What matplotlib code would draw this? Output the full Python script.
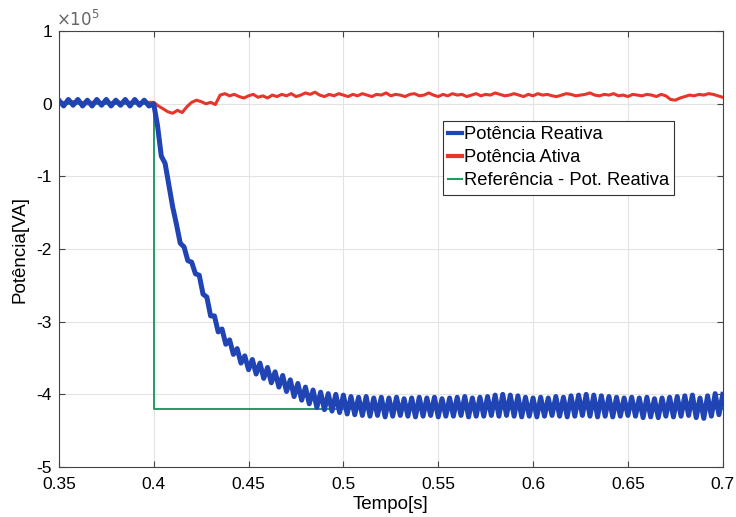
import numpy as np
import matplotlib
matplotlib.use("Agg")
import matplotlib.pyplot as plt
from matplotlib.ticker import FuncFormatter

plt.rcParams['font.family'] = ['Liberation Sans', 'DejaVu Sans']
plt.rcParams['axes.unicode_minus'] = False

SCALE = 1e5  # values below are in units of 1e5 VA

# Reactive power, before the step (0.35 s .. 0.3975 s, every 2.5 ms)
q_pre_t0, q_pre_dt = 0.35, 0.0025
q_pre = [0.05, -0.03, 0.06, -0.02, 0.06, -0.03, 0.05, -0.03, 0.06, -0.02,
         0.06, -0.03, 0.05, -0.02, 0.06, -0.03, 0.06, -0.02, 0.05, -0.03]

# Reactive power, after the step (0.400 s .. 0.700 s, every 2 ms)
q_post_t0, q_post_dt = 0.40, 0.002
q_post = [0.00, -0.30, -0.72, -0.82, -1.12, -1.42, -1.66, -1.92, -1.97, -2.16,
          -2.18, -2.34, -2.36, -2.62, -2.66, -2.92, -2.92, -3.14, -3.10, -3.31,
          -3.25, -3.45, -3.37, -3.57, -3.47, -3.66, -3.52, -3.72, -3.57, -3.78,
          -3.63, -3.84, -3.69, -3.90, -3.74, -3.96, -3.80, -4.03, -3.85, -4.08,
          -3.90, -4.13, -3.94, -4.18, -3.97, -4.21, -3.99, -4.23, -4.00, -4.25,
          -4.01,
          -4.27, -4.03, -4.28, -4.04, -4.29, -4.03, -4.30, -4.05, -4.29, -4.04,
          -4.31, -4.05, -4.30, -4.04, -4.29, -4.06, -4.30, -4.05, -4.31, -4.04,
          -4.30, -4.05, -4.29, -4.04, -4.31, -4.06, -4.30, -4.05, -4.30, -4.04,
          -4.29, -4.03, -4.31, -4.05, -4.30, -4.04, -4.30, -4.03, -4.29, -4.01,
          -4.30, -4.00, -4.29, -4.01, -4.30, -4.02, -4.31, -4.04, -4.30, -4.05,
          -4.31, -4.04, -4.30, -4.05, -4.29, -4.03, -4.30, -4.04, -4.31, -4.02,
          -4.30, -4.01, -4.29, -4.00, -4.30, -4.01, -4.31, -4.02, -4.30, -4.03,
          -4.31, -4.04, -4.30, -4.05, -4.29, -4.04, -4.30, -4.05, -4.32, -4.04,
          -4.31, -4.06, -4.32, -4.05, -4.30, -4.04, -4.31, -4.03, -4.30, -4.02,
          -4.29, -4.01, -4.32, -4.05, -4.33, -4.02, -4.30, -3.99, -4.28, -4.00]

# Active power (0.35 s .. 0.70 s, every 2.5 ms)
p_t0, p_dt = 0.35, 0.0025
p_ativa = [0.00, 0.02, 0.01, 0.03, 0.01, 0.02, 0.00, 0.02, 0.03, 0.01,
           0.02, 0.01, 0.03, 0.02, 0.01, 0.02, 0.03, 0.01, 0.02, 0.02,
           0.02, -0.03, -0.07, -0.11, -0.13, -0.09, -0.12, -0.04, 0.02, 0.05,
           0.03, 0.00, 0.02, -0.01, 0.12, 0.14, 0.11, 0.13, 0.10, 0.08,
           0.11, 0.13, 0.09, 0.11, 0.08, 0.12, 0.10, 0.13, 0.11, 0.14,
           0.10, 0.12, 0.15, 0.13, 0.16, 0.12, 0.10, 0.13, 0.11, 0.14,
           0.12,
           0.10, 0.13, 0.11, 0.14, 0.12, 0.10, 0.13, 0.12, 0.15, 0.11,
           0.13, 0.12, 0.10, 0.13, 0.14, 0.11, 0.12, 0.15, 0.12, 0.10,
           0.13, 0.11, 0.14, 0.12, 0.13, 0.10, 0.12, 0.14, 0.11, 0.13,
           0.12, 0.15, 0.13, 0.11, 0.12, 0.14, 0.12, 0.10, 0.13, 0.11,
           0.14, 0.12, 0.13, 0.11, 0.10, 0.12, 0.14, 0.13, 0.11, 0.12,
           0.13, 0.15, 0.12, 0.11, 0.13, 0.12, 0.14, 0.11, 0.12, 0.10,
           0.13, 0.12, 0.11, 0.13, 0.12, 0.10, 0.13, 0.11, 0.06, 0.05,
           0.08, 0.10, 0.12, 0.11, 0.13, 0.12, 0.14, 0.13, 0.11, 0.09]

# Reactive power reference (step at 0.4 s)
ref_t = [0.35, 0.40, 0.40, 0.70]
ref_q = [0.0, 0.0, -4.2, -4.2]

labels = ['Potência Reativa', 'Potência Ativa', 'Referência - Pot. Reativa']
x_ticks = [0.35, 0.4, 0.45, 0.5, 0.55, 0.6, 0.65, 0.7]
y_ticks = [-5, -4, -3, -2, -1, 0, 1]

t_q = np.concatenate([q_pre_t0 + q_pre_dt * np.arange(len(q_pre)),
                      q_post_t0 + q_post_dt * np.arange(len(q_post))])
q_vals = np.concatenate([q_pre, q_post]) * SCALE
t_p = p_t0 + p_dt * np.arange(len(p_ativa))
p_vals = np.array(p_ativa) * SCALE

fig = plt.figure(figsize=(7.36, 5.17), dpi=100)
ax = fig.add_axes([0.080, 0.0967, 0.902, 0.843])

ax.plot(t_p, p_vals, color='#e8352a', lw=2.2, zorder=3)
ax.plot(ref_t, np.array(ref_q) * SCALE, color='#249a66', lw=1.4, zorder=4)
ax.plot(t_q, q_vals, color='#2144b5', lw=3.6, zorder=5)

h_q = plt.Line2D([], [], color='#2144b5', lw=3.0)
h_p = plt.Line2D([], [], color='#e8352a', lw=3.0)
h_r = plt.Line2D([], [], color='#249a66', lw=1.5)
leg = ax.legend([h_q, h_p, h_r], labels, loc='upper left',
                bbox_to_anchor=(0.578, 0.795), fontsize=13.2,
                handlelength=0.75, handletextpad=0.1, borderpad=0.3,
                labelspacing=0.33, borderaxespad=0, fancybox=False,
                framealpha=1, edgecolor='#333333')
leg.get_frame().set_linewidth(0.8)

ax.set_xlim(0.35, 0.7)
ax.set_ylim(-5 * SCALE, 1 * SCALE)
ax.set_xticks(x_ticks)
ax.set_yticks(np.array(y_ticks) * SCALE)
ax.xaxis.set_major_formatter(FuncFormatter(lambda v, _: '%g' % v))
ax.yaxis.set_major_formatter(FuncFormatter(lambda v, _: '%g' % round(v / SCALE, 6)))
ax.text(-0.005, 1.005, r'$\times 10^{5}$', transform=ax.transAxes,
        ha='left', va='bottom', fontsize=12, color='#666666')

ax.grid(True, color='#e3e3e3', lw=0.8)
ax.set_axisbelow(True)
ax.tick_params(direction='in', labelsize=12.5, length=4, color='#444444',
               top=True, right=True)
ax.tick_params(axis='x', pad=7)
ax.tick_params(axis='y', pad=5)
for s in ax.spines.values():
    s.set_color('#444444')
    s.set_linewidth(0.8)

ax.set_xlabel('Tempo[s]', fontsize=13.5, labelpad=3)
ax.set_ylabel('Potência[VA]', fontsize=13.5, labelpad=6)

fig.savefig('out.png', dpi=100)
